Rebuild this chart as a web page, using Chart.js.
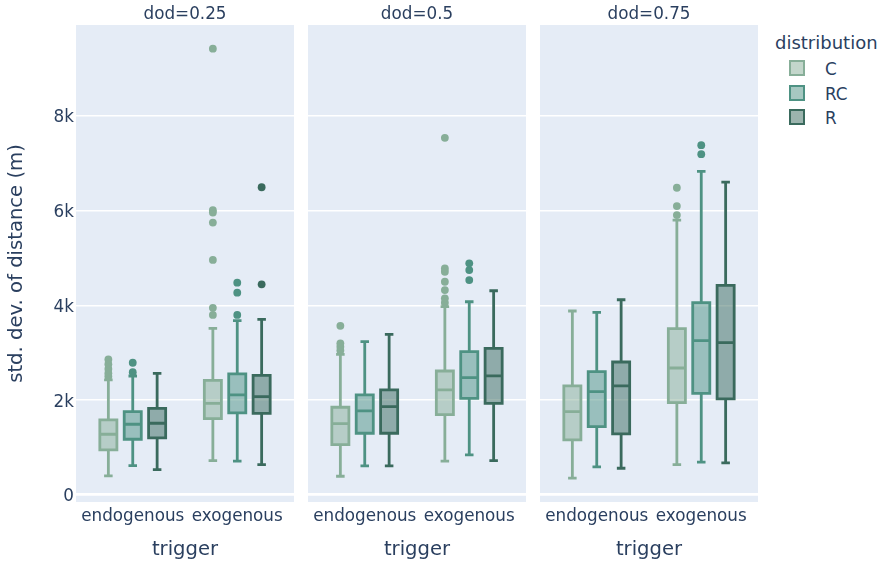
<!DOCTYPE html>
<html>
<head>
<meta charset="utf-8">
<script src="https://cdn.jsdelivr.net/npm/chart.js@4/dist/chart.umd.min.js"></script>
<style>
  body { margin: 0; background: #fff; }
  #wrap { position: relative; width: 885px; height: 562px; font-family: 'DejaVu Sans', sans-serif; color: #2a3f5f; }
  #wrap canvas { position: absolute; top: 0; }
  .leg-title { position: absolute; left: 775px; top: 32px; font-size: 18px; line-height: 22px; white-space: nowrap; }
  .leg-row { position: absolute; left: 789px; height: 20px; font-size: 16.8px; line-height: 20px; white-space: nowrap; }
  .leg-sw { position: absolute; left: 0; top: 1px; width: 12px; height: 12px; border-width: 2.8px; border-style: solid; }
  .leg-txt { position: absolute; left: 36px; top: 0; }
</style>
</head>
<body>
<div id="wrap">
  <canvas id="p0" width="298" height="562" style="left:0px"></canvas>
  <canvas id="p1" width="226" height="562" style="left:304px"></canvas>
  <canvas id="p2" width="226" height="562" style="left:536px"></canvas>
  <div id="legend"></div>
</div>
<script>
// data
const panels = ['dod=0.25', 'dod=0.5', 'dod=0.75'];
const triggers = ['endogenous', 'exogenous'];
const distributions = ['C', 'RC', 'R'];
const yTicks = [0, 2000, 4000, 6000, 8000];

// [lower whisker, q1, median, q3, upper whisker] per distribution, [endogenous, exogenous]
const stats025 = [
    [[400, 950, 1280, 1582, 2430], [724, 1610, 1934, 2419, 3517]],
    [[618, 1175, 1491, 1758, 2510], [711, 1730, 2110, 2553, 3680]],
    [[534, 1203, 1512, 1828, 2567], [640, 1723, 2074, 2525, 3707]]
];
const stats05 = [
    [[394, 1062, 1505, 1850, 2968], [711, 1695, 2215, 2616, 3973]],
    [[612, 1301, 1772, 2110, 3235], [844, 2039, 2475, 3024, 4078]],
    [[612, 1301, 1864, 2215, 3390], [724, 1934, 2511, 3094, 4310]]
];
const stats075 = [
    [[352, 1160, 1758, 2300, 3882], [640, 1948, 2679, 3509, 5802]],
    [[591, 1442, 2180, 2602, 3854], [690, 2145, 3256, 4057, 6829]],
    [[563, 1287, 2300, 2806, 4120], [675, 2025, 3213, 4423, 6603]]
];

// outliers
const outl025 = [
    [[2500, 2570, 2660, 2760, 2860], [3800, 3950, 4960, 5750, 5960, 6010, 9420]],
    [[2590, 2790], [3800, 4270, 4480]],
    [[], [4445, 6495]]
];
const outl05 = [
    [[3050, 3130, 3200, 3570], [4057, 4150, 4325, 4500, 4711, 4782, 7538]],
    [[], [4536, 4747, 4888]],
    [[], []]
];
const outl075 = [
    [[], [5907, 6097, 6484]],
    [[], [7194, 7384]],
    [[], []]
];

const lineColors = ['#87ae98', '#4e9283', '#3a6a5d'];
const fillColors = ['rgba(135,174,152,0.5)', 'rgba(78,146,131,0.5)', 'rgba(58,106,93,0.5)'];
const plotBg = '#e5ecf6';
const txtColor = '#2a3f5f';

// plotly group layout: boxgap .3, boxgroupgap .3
const slot = 0.7 / 3;
const offsets = [-slot, 0, slot];
const boxW = slot * 0.7;

Chart.defaults.font.family = "'DejaVu Sans', sans-serif";
Chart.defaults.color = txtColor;
Chart.defaults.animation = false;

function boxPlugin(stats) {
    return {
        id: 'boxes',
        beforeDraw(chart) {
            const { ctx, chartArea: a } = chart;
            ctx.save();
            ctx.fillStyle = plotBg;
            ctx.fillRect(a.left, a.top, a.right - a.left, a.bottom - a.top);
            ctx.restore();
        },
        beforeDatasetsDraw(chart) {
            const ctx = chart.ctx, xs = chart.scales.x, ys = chart.scales.y;
            ctx.save();
            ctx.lineWidth = 2.8;
            stats.forEach((byTrig, d) => {
                byTrig.forEach((s, t) => {
                    const c = t + offsets[d];
                    const xl = xs.getPixelForValue(c - boxW / 2);
                    const xr = xs.getPixelForValue(c + boxW / 2);
                    const xc = xs.getPixelForValue(c);
                    const cl = xs.getPixelForValue(c - boxW / 4);
                    const cr = xs.getPixelForValue(c + boxW / 4);
                    const [lo, q1, md, q3, hi] = s.map(v => ys.getPixelForValue(v));
                    ctx.strokeStyle = lineColors[d];
                    ctx.fillStyle = fillColors[d];
                    ctx.fillRect(xl, q3, xr - xl, q1 - q3);
                    ctx.beginPath();
                    ctx.rect(xl, q3, xr - xl, q1 - q3);
                    // median
                    ctx.moveTo(xl, md); ctx.lineTo(xr, md);
                    // whiskers
                    ctx.moveTo(xc, q1); ctx.lineTo(xc, lo);
                    ctx.moveTo(xc, q3); ctx.lineTo(xc, hi);
                    ctx.moveTo(cl, lo); ctx.lineTo(cr, lo);
                    ctx.moveTo(cl, hi); ctx.lineTo(cr, hi);
                    ctx.stroke();
                });
            });
            ctx.restore();
        }
    };
}

function makePanel(id, idx, stats, outl) {
    const first = idx === 0;
    const datasets = distributions.map((name, d) => ({
        label: name,
        data: outl[d].flatMap((vals, t) => vals.map(v => ({ x: t + offsets[d], y: v }))),
        backgroundColor: lineColors[d],
        borderWidth: 0,
        pointRadius: 3.9,
        showLine: false
    }));
    return new Chart(document.getElementById(id), {
        type: 'scatter',
        data: { datasets },
        plugins: [boxPlugin(stats)],
        options: {
            responsive: false,
            layout: { padding: { left: 0, right: 3, top: 0, bottom: 0 } },
            plugins: {
                legend: { display: false },
                tooltip: { enabled: false },
                title: {
                    display: true, text: panels[idx], color: txtColor, fullSize: false,
                    font: { size: 16.8, weight: 'normal' },
                    padding: { top: 4.8, bottom: 0.04 }
                }
            },
            scales: {
                x: {
                    type: 'linear', min: -0.543, max: 1.543,
                    afterBuildTicks: s => { s.ticks = triggers.map((_, i) => ({ value: i })); },
                    afterFit: s => { s.height = 60; },
                    ticks: { callback: v => triggers[v], font: { size: 16.8 }, color: txtColor, padding: 5, maxRotation: 0, autoSkip: false },
                    grid: { display: false, drawTicks: false },
                    border: { display: false },
                    title: { display: true, text: 'trigger', font: { size: 19.6 }, color: txtColor, padding: { top: 0, bottom: 0 } }
                },
                y: {
                    min: -150, max: 9920,
                    afterBuildTicks: s => { s.ticks = yTicks.map(v => ({ value: v })); },
                    afterFit: s => { s.width = first ? 76 : 0; },
                    ticks: {
                        display: first, font: { size: 16.8 }, color: txtColor, padding: 2, labelOffset: 2,
                        callback: v => v === 0 ? '0' : (v / 1000) + 'k'
                    },
                    grid: {
                        color: '#ffffff', drawTicks: false,
                        lineWidth: c => (c.tick && c.tick.value === 0) ? 2.8 : 1.4
                    },
                    border: { display: false },
                    title: {
                        display: first, text: 'std. dev. of distance (m)',
                        font: { size: 19.6 }, color: txtColor, padding: { top: 5, bottom: 0 }
                    }
                }
            }
        }
    });
}

makePanel('p0', 0, stats025, outl025);
makePanel('p1', 1, stats05, outl05);
makePanel('p2', 2, stats075, outl075);

// legend
const leg = document.getElementById('legend');
const t = document.createElement('div');
t.className = 'leg-title';
t.textContent = 'distribution';
leg.appendChild(t);
const rowCenters = [69, 94, 118];
distributions.forEach((name, d) => {
    const row = document.createElement('div');
    row.className = 'leg-row';
    row.style.top = (rowCenters[d] - 10) + 'px';
    const sw = document.createElement('div');
    sw.className = 'leg-sw';
    sw.style.borderColor = lineColors[d];
    sw.style.background = fillColors[d];
    const tx = document.createElement('span');
    tx.className = 'leg-txt';
    tx.textContent = name;
    row.appendChild(sw);
    row.appendChild(tx);
    leg.appendChild(row);
});
</script>
</body>
</html>
